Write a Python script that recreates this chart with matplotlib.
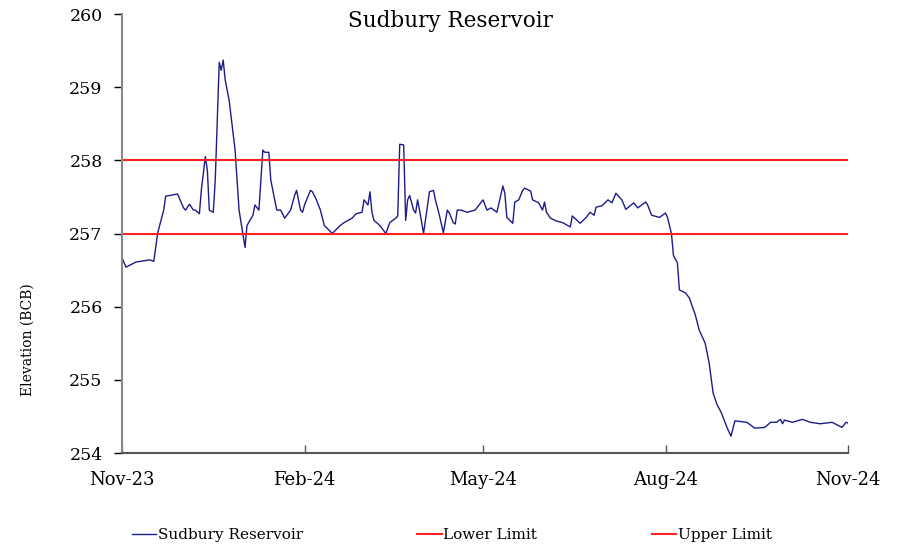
import matplotlib
matplotlib.use("Agg")
import matplotlib.pyplot as plt
import numpy as np
import pandas as pd

plt.rcParams['font.family'] = ['DejaVu Serif']

# days after 1 Nov 2023, elevation
days = [0, 2, 7, 14, 16, 18, 21, 22, 28, 31, 32, 34, 36, 37, 39, 40, 42, 43, 44, 46,
        47, 49, 50, 51, 52, 54, 57, 59, 62, 63, 66, 67, 69, 71, 72, 74, 75, 78, 80, 82,
        85, 87, 88, 90, 91, 92, 95, 96, 98, 100, 102, 106, 110, 112, 116, 118, 121, 122, 124, 125,
        126, 127, 130, 133, 135, 138, 139, 140, 142, 143, 144, 145, 147, 148, 149, 150, 152, 155, 157, 158,
        160, 162, 164, 165, 167, 168, 169, 171, 174, 178, 180, 182, 184, 186, 189, 192, 193, 194, 197, 198,
        200, 202, 203, 206, 207, 210, 212, 213, 214, 216, 219, 222, 226, 227, 231, 234, 236, 238, 239, 242,
        245, 247, 249, 252, 254, 258, 260, 264, 265, 267, 271, 274, 275, 277, 278, 280, 281, 284, 286, 289,
        291, 294, 296, 298, 300, 302, 305, 307, 309, 315, 319, 324, 327, 330, 332, 333, 334, 338, 343, 347,
        352, 358, 363, 365, 366]
elevation = [256.67, 256.54, 256.61, 256.64, 256.62, 257.01, 257.32, 257.51, 257.54, 257.35,
             257.32, 257.40, 257.32, 257.32, 257.27, 257.60, 258.05, 257.87, 257.32, 257.29,
             257.73, 259.34, 259.23, 259.37, 259.10, 258.82, 258.14, 257.32, 256.81, 257.11,
             257.25, 257.39, 257.32, 258.14, 258.11, 258.11, 257.73, 257.32, 257.32, 257.21,
             257.32, 257.52, 257.59, 257.32, 257.29, 257.39, 257.59, 257.57, 257.46, 257.32,
             257.11, 257.00, 257.11, 257.15, 257.21, 257.27, 257.29, 257.46, 257.39, 257.57,
             257.29, 257.18, 257.11, 257.00, 257.15, 257.21, 257.24, 258.22, 258.21, 257.18,
             257.46, 257.52, 257.32, 257.28, 257.46, 257.32, 257.00, 257.57, 257.59, 257.46,
             257.25, 257.01, 257.32, 257.28, 257.15, 257.13, 257.32, 257.32, 257.29, 257.32,
             257.39, 257.46, 257.32, 257.35, 257.29, 257.65, 257.55, 257.22, 257.14, 257.43,
             257.46, 257.59, 257.62, 257.58, 257.46, 257.42, 257.32, 257.43, 257.29, 257.21,
             257.17, 257.15, 257.09, 257.24, 257.14, 257.22, 257.29, 257.25, 257.36, 257.38,
             257.46, 257.42, 257.55, 257.46, 257.33, 257.42, 257.35, 257.43, 257.39, 257.25,
             257.22, 257.28, 257.22, 257.00, 256.70, 256.60, 256.23, 256.19, 256.12, 255.89,
             255.68, 255.50, 255.23, 254.82, 254.66, 254.56, 254.35, 254.23, 254.44, 254.42,
             254.34, 254.35, 254.42, 254.42, 254.46, 254.40, 254.45, 254.42, 254.46, 254.42,
             254.40, 254.42, 254.35, 254.42, 254.41]
lower_limit = 257.0
upper_limit = 258.0
tick_dates = ['2023-11-01', '2024-02-01', '2024-05-01', '2024-08-01', '2024-11-01']
tick_labels = ['Nov-23', 'Feb-24', 'May-24', 'Aug-24', 'Nov-24']

dates = pd.Timestamp('2023-11-01') + pd.to_timedelta(days, unit='D')
start, end = pd.Timestamp('2023-11-01'), pd.Timestamp('2024-11-01')

fig = plt.figure(figsize=(8.98, 5.47), dpi=100)
ax = fig.add_axes([0.1359, 0.1718, 0.8084, 0.8026])

ax.plot(dates, elevation, color='#1c1c8a', lw=1.0, label='Sudbury Reservoir')
ax.plot([start, end], [lower_limit, lower_limit], color='#ff2020', lw=1.5, label='Lower Limit')
ax.plot([start, end], [upper_limit, upper_limit], color='#ff2020', lw=1.5, label='Upper Limit')

ax.set_xlim(start, end)
ax.set_ylim(254, 260)
ax.set_yticks(np.arange(254, 261, 1))
ax.set_xticks(pd.to_datetime(tick_dates))
ax.set_xticklabels(tick_labels)

for s in ['top', 'right']:
    ax.spines[s].set_visible(False)
ax.spines['left'].set_color('#888888')
ax.spines['left'].set_linewidth(1.5)
ax.spines['bottom'].set_color('#555555')
ax.spines['bottom'].set_linewidth(1.5)

ax.tick_params(axis='y', direction='out', length=6, width=1, labelsize=12.5, pad=8)
ax.tick_params(axis='x', direction='in', length=6, width=1, color='#555555', labelsize=13, pad=13)

fig.text(450 / 898, 1 - 21 / 547, 'Sudbury Reservoir', ha='center', va='center', fontsize=15.5)
fig.text(28 / 898, 1 - 340 / 547, 'Elevation (BCB)', rotation=90, ha='center', va='center', fontsize=10)

fig.legend(loc='center', bbox_to_anchor=(0.503, 1 - 535 / 547), ncol=3, frameon=False,
           fontsize=11, handlelength=1.6, handletextpad=0.1, columnspacing=7.5)

fig.savefig('out.png', dpi=100)
